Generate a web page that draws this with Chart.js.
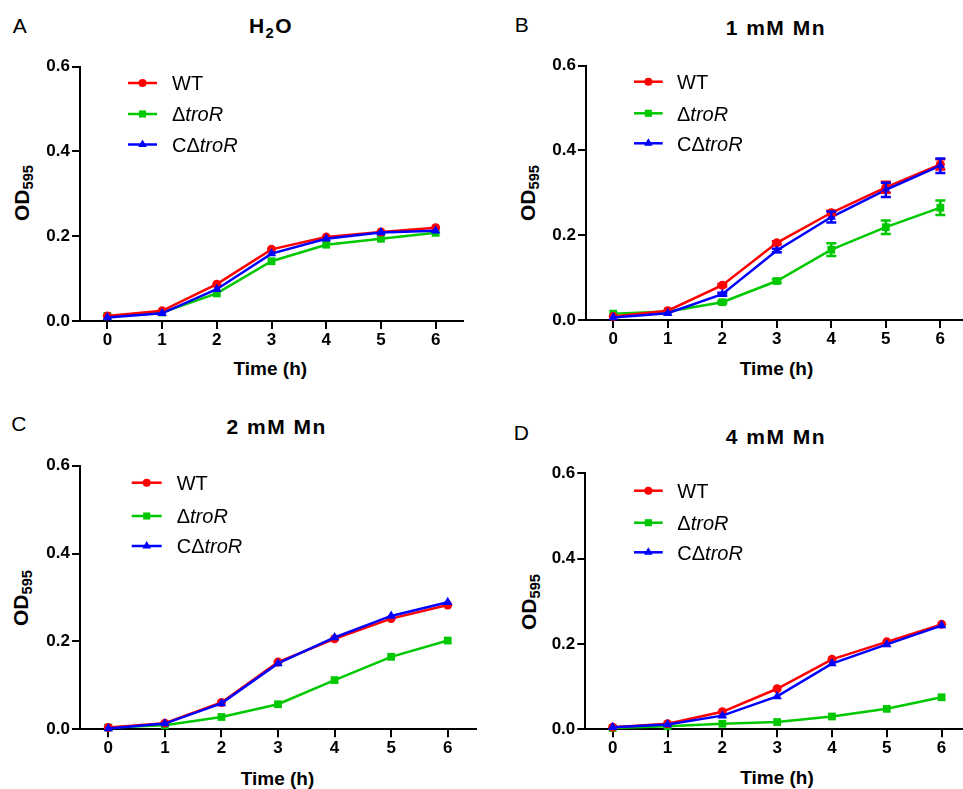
<!DOCTYPE html>
<html><head><meta charset="utf-8">
<script src="https://cdn.jsdelivr.net/npm/chart.js@4.4.0/dist/chart.umd.min.js"></script>
<style>
html,body{margin:0;padding:0;background:#fff;}
body{width:963px;height:789px;overflow:hidden;position:relative;font-family:"Liberation Sans",Arial,sans-serif;color:#000;}
.cv{position:absolute;}
.lbl{position:absolute;white-space:nowrap;line-height:1;color:#000;}
.letter{font-size:21px;transform:translate(-50%,0);}
.title{font-size:21px;font-weight:bold;letter-spacing:1.5px;transform:translate(-50%,0);}
.xt{font-size:19px;font-weight:bold;transform:translate(-50%,0);}
.yt{font-size:21px;font-weight:bold;transform:translate(-50%,-50%) rotate(-90deg);}
.sub{font-size:0.7em;position:relative;top:0.3em;}
</style></head><body>

<div class="lbl letter" style="left:19.7px;top:14.5px">A</div>
<div class="lbl title" style="left:271px;top:15.3px">H<span class="sub">2</span>O</div>
<div class="lbl xt" style="left:270.3px;top:358.8px">Time (h)</div>
<div class="lbl yt" style="left:21.3px;top:193.3px">OD<span class="sub">595</span></div>

<div class="lbl letter" style="left:521.7px;top:14px">B</div>
<div class="lbl title" style="left:775.8px;top:17.3px">1 mM Mn</div>
<div class="lbl xt" style="left:776.5px;top:358.5px">Time (h)</div>
<div class="lbl yt" style="left:527px;top:192.5px">OD<span class="sub">595</span></div>

<div class="lbl letter" style="left:18.8px;top:413.2px">C</div>
<div class="lbl title" style="left:276.7px;top:416.2px">2 mM Mn</div>
<div class="lbl xt" style="left:277.5px;top:768.9px">Time (h)</div>
<div class="lbl yt" style="left:19.5px;top:597.5px">OD<span class="sub">595</span></div>

<div class="lbl letter" style="left:521.3px;top:421.7px">D</div>
<div class="lbl title" style="left:776px;top:425.7px">4 mM Mn</div>
<div class="lbl xt" style="left:777px;top:767.9px">Time (h)</div>
<div class="lbl yt" style="left:528.3px;top:601.7px">OD<span class="sub">595</span></div>

<script>
// ---------- data ----------
const times = [0, 1, 2, 3, 4, 5, 6];
const xTickValues = [0, 1, 2, 3, 4, 5, 6];
const yTickValues = [0.0, 0.2, 0.4, 0.6];
const seriesLabels = ['WT', 'ΔtroR', 'CΔtroR'];

const h2oWT   = [0.012, 0.024, 0.087, 0.169, 0.198, 0.210, 0.220];
const h2oDel  = [0.012, 0.020, 0.065, 0.141, 0.180, 0.194, 0.208];
const h2oComp = [0.008, 0.018, 0.075, 0.159, 0.194, 0.209, 0.213];

const mn1WT   = [0.008, 0.022, 0.082, 0.182, 0.253, 0.313, 0.367];
const mn1Del  = [0.015, 0.020, 0.042, 0.092, 0.166, 0.219, 0.265];
const mn1Comp = [0.006, 0.016, 0.061, 0.164, 0.243, 0.307, 0.364];
const mn1WTErr   = [0.000, 0.000, 0.003, 0.004, 0.005, 0.013, 0.012];
const mn1DelErr  = [0.000, 0.000, 0.003, 0.004, 0.015, 0.016, 0.017];
const mn1CompErr = [0.000, 0.000, 0.003, 0.004, 0.013, 0.017, 0.017];

const mn2WT   = [0.004, 0.014, 0.061, 0.153, 0.206, 0.252, 0.283];
const mn2Del  = [0.004, 0.009, 0.028, 0.057, 0.112, 0.165, 0.202];
const mn2Comp = [0.002, 0.013, 0.059, 0.150, 0.209, 0.258, 0.289];

const mn4WT   = [0.005, 0.013, 0.041, 0.095, 0.164, 0.205, 0.246];
const mn4Del  = [0.003, 0.007, 0.013, 0.017, 0.030, 0.048, 0.075];
const mn4Comp = [0.005, 0.011, 0.032, 0.077, 0.154, 0.199, 0.243];

// ---------- styles / layout ----------
const seriesColors = ['#ff0000', '#00c800', '#0000ff'];
const seriesStyles = ['circle', 'rect', 'triangle'];
const seriesRadii  = [4.5, 5.5, 5.5];
const seriesOrder  = [1, 2, 0];
const FONT = '"Liberation Sans", Arial, sans-serif';
Chart.defaults.font.family = FONT;

const CW = 500, CH = 400;
const panels = [
  {px: 0,   py: 0,   area: {l: 80,    t: 66.7,  r: 463,   b: 321},
   legend: {x1: 48, x2: 77, tx: 92, rows: [16.3, 47.3, 77.8]},
   series: [h2oWT, h2oDel, h2oComp], errs: null},
  {px: 480, py: 0,   area: {l: 586,   t: 65.7,  r: 967.6, b: 320},
   legend: {x1: 48, x2: 76.7, tx: 91, rows: [16, 47.6, 77.6]},
   series: [mn1WT, mn1Del, mn1Comp], errs: [mn1WTErr, mn1DelErr, mn1CompErr]},
  {px: 0,   py: 400, area: {l: 80,    t: 465.7, r: 476,   b: 729.3},
   legend: {x1: 51.7, x2: 81.7, tx: 96.7, rows: [17, 50.3, 80.3]},
   series: [mn2WT, mn2Del, mn2Comp], errs: null},
  {px: 480, py: 400, area: {l: 585.3, t: 473.3, r: 969,   b: 729.3},
   legend: {x1: 48.7, x2: 77.4, tx: 92, rows: [17.4, 49.4, 79]},
   series: [mn4WT, mn4Del, mn4Comp], errs: null}
];

function drawMarker(ctx, style, x, y, r, color) {
  ctx.save();
  ctx.fillStyle = color;
  ctx.beginPath();
  if (style === 'circle') {
    ctx.arc(x, y, r, 0, Math.PI * 2);
  } else if (style === 'rect') {
    const s = r * Math.SQRT1_2;
    ctx.rect(x - s, y - s, 2 * s, 2 * s);
  } else {
    const a = 2 * Math.PI / 3;
    ctx.moveTo(x, y - r);
    ctx.lineTo(x + Math.sin(a) * r, y - Math.cos(a) * r);
    ctx.lineTo(x - Math.sin(a) * r, y - Math.cos(a) * r);
    ctx.closePath();
  }
  ctx.fill();
  ctx.restore();
}

const errorBarPlugin = {
  id: 'errorBars',
  afterDatasetsDraw(chart, args, opts) {
    const errs = opts.errs;
    if (!errs) return;
    const {ctx, scales: {x, y}} = chart;
    chart.data.datasets.forEach((ds, k) => {
      const e = errs[k];
      if (!e) return;
      ctx.save();
      ctx.strokeStyle = ds.borderColor;
      ctx.lineWidth = 2.5;
      ds.data.forEach((p, i) => {
        if (!e[i]) return;
        const px = x.getPixelForValue(p.x);
        const yt = y.getPixelForValue(p.y + e[i]);
        const yb = y.getPixelForValue(p.y - e[i]);
        ctx.beginPath();
        ctx.moveTo(px, yt); ctx.lineTo(px, yb);
        ctx.moveTo(px - 5, yt); ctx.lineTo(px + 5, yt);
        ctx.moveTo(px - 5, yb); ctx.lineTo(px + 5, yb);
        ctx.stroke();
      });
      ctx.restore();
    });
  }
};

const legendPlugin = {
  id: 'customLegend',
  afterDraw(chart, args, opts) {
    const L = opts.layout;
    const {ctx, chartArea} = chart;
    chart.data.datasets.forEach((ds, k) => {
      const y = chartArea.top + L.rows[k];
      const x1 = chartArea.left + L.x1, x2 = chartArea.left + L.x2;
      ctx.save();
      ctx.strokeStyle = ds.borderColor;
      ctx.lineWidth = 2.5;
      ctx.beginPath(); ctx.moveTo(x1, y); ctx.lineTo(x2, y); ctx.stroke();
      drawMarker(ctx, seriesStyles[k], (x1 + x2) / 2, y, seriesRadii[k] - 0.5, ds.borderColor);
      ctx.fillStyle = '#000';
      ctx.textBaseline = 'alphabetic';
      ctx.textAlign = 'left';
      const base = y + 7.2;
      let tx = chartArea.left + L.tx;
      const label = ds.label;
      const idx = label.indexOf('Δ');
      ctx.font = '20px ' + FONT;
      if (idx >= 0) {
        const normal = label.slice(0, idx + 1);
        const ital = label.slice(idx + 1);
        ctx.fillText(normal, tx, base);
        tx += ctx.measureText(normal).width;
        ctx.font = 'italic 20px ' + FONT;
        ctx.fillText(ital, tx, base);
      } else {
        ctx.fillText(label, tx, base);
      }
      ctx.restore();
    });
  }
};

panels.forEach(p => {
  const c = document.createElement('canvas');
  c.className = 'cv';
  c.width = CW; c.height = CH;
  c.style.left = p.px + 'px'; c.style.top = p.py + 'px';
  c.style.width = CW + 'px'; c.style.height = CH + 'px';
  document.body.appendChild(c);
  const a = p.area;
  const yAxisW = a.l - p.px;
  const xAxisH = 40;
  new Chart(c.getContext('2d'), {
    type: 'line',
    data: {
      datasets: p.series.map((vals, k) => ({
        label: seriesLabels[k],
        data: times.map((t, i) => ({x: t, y: vals[i]})),
        borderColor: seriesColors[k],
        backgroundColor: seriesColors[k],
        pointBackgroundColor: seriesColors[k],
        pointBorderColor: seriesColors[k],
        borderWidth: 2.5,
        pointStyle: seriesStyles[k],
        pointRadius: seriesRadii[k],
        pointBorderWidth: 0,
        tension: 0,
        clip: false,
        order: seriesOrder[k]
      }))
    },
    options: {
      responsive: false,
      animation: false,
      devicePixelRatio: 1,
      events: [],
      layout: {padding: {left: 0, top: a.t - p.py, right: CW - (a.r - p.px), bottom: CH - (a.b - p.py) - xAxisH}},
      plugins: {
        legend: {display: false},
        tooltip: {enabled: false},
        errorBars: {errs: p.errs},
        customLegend: {layout: p.legend}
      },
      scales: {
        x: {
          type: 'linear', min: -0.5, max: 6.5,
          afterBuildTicks: s => { s.ticks = xTickValues.map(v => ({value: v})); },
          afterFit: s => { s.height = xAxisH; },
          grid: {drawOnChartArea: false, drawTicks: true, tickLength: 8, lineWidth: 2, color: '#000'},
          border: {display: true, color: '#000', width: 2},
          ticks: {color: '#000', font: {size: 17, weight: 'bold'}, padding: 1, maxRotation: 0, autoSkip: false,
                  callback: v => String(v)}
        },
        y: {
          type: 'linear', min: 0, max: 0.6,
          afterBuildTicks: s => { s.ticks = yTickValues.map(v => ({value: v})); },
          afterFit: s => { s.width = yAxisW; },
          grid: {drawOnChartArea: false, drawTicks: true, tickLength: 8, lineWidth: 2, color: '#000'},
          border: {display: true, color: '#000', width: 2},
          ticks: {color: '#000', font: {size: 17, weight: 'bold'}, padding: 2, autoSkip: false,
                  callback: v => Number(v).toFixed(1)}
        }
      }
    },
    plugins: [errorBarPlugin, legendPlugin]
  });
});
</script>
</body></html>
